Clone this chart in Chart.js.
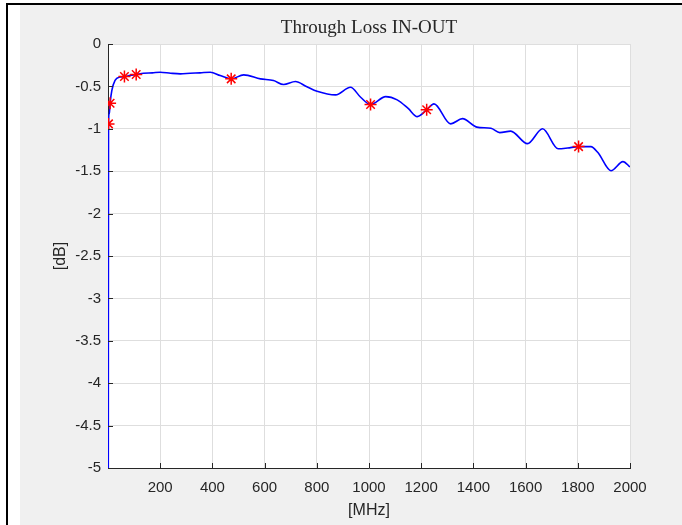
<!DOCTYPE html>
<html>
<head>
<meta charset="utf-8">
<script src="https://cdn.jsdelivr.net/npm/chart.js@4.4.1/dist/chart.umd.min.js"></script>
<style>
  html, body { margin: 0; padding: 0; background: #fff; }
  #wrap { position: relative; width: 682px; height: 525px; }
</style>
</head>
<body>
<div id="wrap"><canvas id="lossChart" width="682" height="525"></canvas></div>
<script>
// traced curve, frequency [MHz] and loss [dB]
const freqMHz = [1, 2, 5, 8, 14.6, 27, 46, 63, 85, 108, 136, 170, 200, 240, 277, 315, 353, 392, 430, 472,
  520, 584, 634, 673, 718, 760, 801, 872, 929, 968, 1006, 1064, 1108, 1150, 1185, 1221, 1249, 1313, 1358,
  1413, 1467, 1501, 1543, 1607, 1665, 1725, 1761, 1803, 1850, 1877, 1927, 1973, 2000];
const lossDB = [-5.5, -0.94, -0.82, -0.70, -0.55, -0.43, -0.39, -0.384, -0.37, -0.36, -0.345, -0.34, -0.333, -0.345, -0.352, -0.345, -0.34, -0.333, -0.372, -0.411,
  -0.364, -0.411, -0.431, -0.478, -0.443, -0.50, -0.557, -0.600, -0.510, -0.628, -0.714, -0.620, -0.659, -0.76, -0.856, -0.776, -0.706, -0.942, -0.880,
  -0.980, -0.994, -1.045, -1.027, -1.175, -1.000, -1.235, -1.226, -1.21, -1.21, -1.28, -1.494, -1.387, -1.45];

// red star markers
const markFreq = [2, 8, 63, 108, 472, 1006, 1221, 1803];
const markDB = [-0.942, -0.699, -0.384, -0.360, -0.411, -0.714, -0.776, -1.21];

const xTicks = [0, 200, 400, 600, 800, 1000, 1200, 1400, 1600, 1800, 2000];
const yTicks = [0, -0.5, -1, -1.5, -2, -2.5, -3, -3.5, -4, -4.5, -5];

const textColor = '#262626';
const gridColor = '#dedede';

// figure frame + gray background, white axes area
const framePlugin = {
  id: 'frame',
  beforeDraw(chart) {
    const c = chart.ctx, a = chart.chartArea;
    c.save();
    c.fillStyle = '#ffffff';
    c.fillRect(0, 0, chart.width, chart.height);
    c.fillStyle = '#f0f0f0';
    c.fillRect(20, 5, chart.width - 20, chart.height - 5);
    c.fillStyle = '#000000';
    c.fillRect(6, 3, chart.width - 6, 2);
    c.fillRect(6, 3, 2, chart.height - 3);
    c.fillStyle = '#ffffff';
    c.fillRect(a.left, a.top, a.right - a.left, a.bottom - a.top);
    c.restore();
  },
  // matlab style ticks pointing inwards
  afterDraw(chart) {
    const c = chart.ctx, a = chart.chartArea;
    const xs = chart.scales.x, ys = chart.scales.y;
    c.save();
    c.strokeStyle = textColor;
    c.lineWidth = 1;
    c.beginPath();
    xTicks.forEach(v => {
      if (v === 0) return;
      const px = Math.round(xs.getPixelForValue(v)) + 0.5;
      c.moveTo(px, a.bottom);
      c.lineTo(px, a.bottom - 5);
    });
    yTicks.forEach(v => {
      const py = Math.round(ys.getPixelForValue(v)) + 0.5;
      c.moveTo(a.left, py);
      c.lineTo(a.left + 5, py);
    });
    c.stroke();
    c.restore();
  }
};

const ctx = document.getElementById('lossChart').getContext('2d');
const chart = new Chart(ctx, {
  type: 'line',
  data: {
    datasets: [{
      type: 'scatter',
      data: markFreq.map((f, i) => ({ x: f, y: markDB[i] })),
      pointStyle: 'star',
      pointRadius: 6,
      borderColor: '#ff0000',
      backgroundColor: '#ff0000',
      pointBorderWidth: 1.5,
      showLine: false,
      order: 0
    }, {
      data: freqMHz.map((f, i) => ({ x: f, y: lossDB[i] })),
      borderColor: '#0000ff',
      borderWidth: 1.6,
      pointRadius: 0,
      cubicInterpolationMode: 'monotone',
      fill: false,
      order: 1
    }]
  },
  options: {
    responsive: false,
    animation: false,
    devicePixelRatio: 1,
    layout: { padding: { left: 0, right: 52, top: 0, bottom: 0 } },
    plugins: {
      legend: { display: false },
      tooltip: { enabled: false },
      title: {
        display: true,
        text: 'Through Loss IN-OUT',
        fullSize: false,
        color: textColor,
        font: { family: '"Liberation Serif", "DejaVu Serif", serif', size: 19, weight: 'normal' },
        padding: { top: 16.2, bottom: 5 }
      }
    },
    scales: {
      x: {
        type: 'linear',
        min: 0,
        max: 2000,
        afterFit(s) { s.height = 57; },
        afterBuildTicks(s) { s.ticks = xTicks.map(v => ({ value: v })); },
        grid: { color: gridColor, drawTicks: false },
        border: { color: textColor, width: 1 },
        ticks: {
          padding: 11,
          color: textColor,
          maxRotation: 0,
          font: { family: '"Liberation Sans", Arial, sans-serif', size: 15 },
          callback: v => (v === 0 ? '' : String(v))
        },
        title: {
          display: true,
          text: '[MHz]',
          color: textColor,
          font: { family: '"Liberation Sans", Arial, sans-serif', size: 16 },
          padding: { top: 0, bottom: 5 }
        }
      },
      y: {
        type: 'linear',
        min: -5,
        max: 0,
        afterFit(s) { s.width = 108; },
        afterBuildTicks(s) { s.ticks = yTicks.map(v => ({ value: v })); },
        grid: { color: gridColor, drawTicks: false },
        border: { color: textColor, width: 1 },
        ticks: {
          padding: 7,
          color: textColor,
          font: { family: '"Liberation Sans", Arial, sans-serif', size: 15 },
          callback: v => String(v)
        },
        title: {
          display: true,
          text: '[dB]',
          color: textColor,
          font: { family: '"Liberation Sans", Arial, sans-serif', size: 16 },
          padding: { top: 51, bottom: 0 }
        }
      }
    }
  },
  plugins: [framePlugin]
});
</script>
</body>
</html>
